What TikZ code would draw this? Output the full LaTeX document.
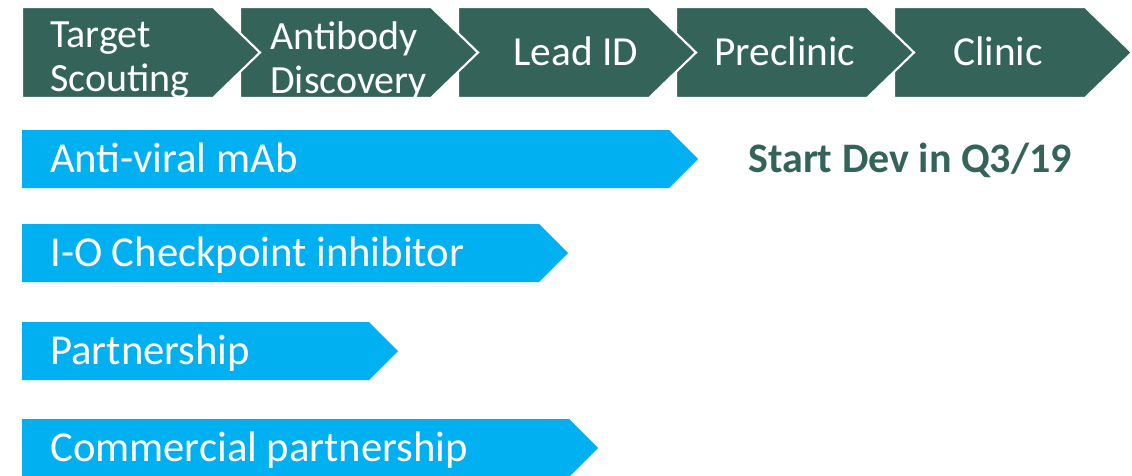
\documentclass[tikz,border=0pt]{standalone}
\usepackage{fontspec}
\setmainfont{Carlito}
\definecolor{stagegreen}{HTML}{34635A}
\definecolor{barblue}{HTML}{00B0F0}

\begin{document}
\begin{tikzpicture}[x=0.75pt,y=-0.75pt]

        \useasboundingbox (0,0) rectangle (1132,475);

        \begin{scope}[every path/.style={fill=stagegreen,draw=white,line width=1.6pt,line join=miter}]
          \foreach \i in {4,3,2,1,0}
            \path ({22+218*\i},7) -- ++(191,0) -- ++(47,45.5) -- ++(-47,45.5) -- ++(-191,0) -- cycle;
        \end{scope}

        \begin{scope}[every path/.style={fill=barblue}]
          \path (22,130) -- (669,130) -- (698,159) -- (669,188) -- (22,188) -- cycle;
          \path (22,224) -- (539,224) -- (568,253) -- (539,282) -- (22,282) -- cycle;
          \path (22,322) -- (369,322) -- (398,351) -- (369,380) -- (22,380) -- cycle;
          \path (22,419) -- (569,419) -- (598,448) -- (569,477) -- (22,477) -- cycle;
        \end{scope}

        \begin{scope}[every node/.style={text=white,inner sep=0pt,align=left,
            font=\fontsize{30}{33}\selectfont}]
          \node[anchor=west] (scouting)  at (50,60)  {Target\\Scouting};
          \node[anchor=west] (discovery) at (270,61) {Antibody\\Discovery};
        \end{scope}

        \begin{scope}[every node/.style={text=white,inner sep=0pt,anchor=base west,
            font=\fontsize{31}{36}\selectfont}]
          \node (leadid)    at (513,65) {Lead ID};
          \node (preclinic) at (714,65) {Preclinic};
          \node (clinic)    at (953,65) {Clinic};
        \end{scope}

        \begin{scope}[every node/.style={text=white,inner sep=0pt,anchor=base west,
            font=\fontsize{32}{36}\selectfont}]
          \node (antiviral)  at (50,172.5) {Anti-viral mAb};
          \node (checkpoint) at (50,266.5) {I-O Checkpoint inhibitor};
          \node (partner)    at (50,364.5) {Partnership};
          \node (commercial) at (50,461)   {Commercial partnership};
        \end{scope}

        \node[text=stagegreen,inner sep=0pt,anchor=base west,
          font=\fontsize{31.5}{36}\selectfont\bfseries] (startdev) at (748,172) {Start Dev in Q3/19};

      \end{tikzpicture}
\end{document}
